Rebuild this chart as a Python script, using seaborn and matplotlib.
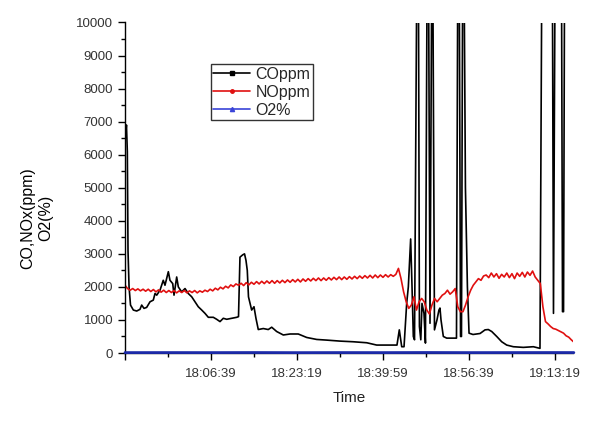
import numpy as np
import pandas as pd
import matplotlib
matplotlib.use("Agg")
import matplotlib.pyplot as plt
from matplotlib.lines import Line2D
import seaborn as sns

# ---- data (elapsed seconds from 17:49:59) ----
start_label = "17:49:59"
tick_times = [0, 1000, 2000, 3000, 4000, 5000]
tick_labels = ["", "18:06:39", "18:23:19", "18:39:59", "18:56:39", "19:13:19"]

co_t = [3, 17, 27, 35, 47, 64, 97, 136, 174, 194, 221, 252, 291, 329, 349, 369, 407, 445, 465,
        504, 523, 555, 570, 601, 620, 659, 698, 736, 776, 814, 852, 892, 930, 969, 1027, 1066,
        1105, 1143, 1183, 1241, 1299, 1320, 1337, 1369, 1390, 1407, 1422, 1436, 1473, 1500,
        1523, 1550, 1608, 1666, 1706, 1764, 1841, 1919, 2015, 2113, 2229, 2346, 2500, 2655,
        2811, 2927, 3043, 3163, 3190, 3218, 3245, 3276, 3295, 3322, 3338, 3353, 3367, 3392,
        3413, 3424, 3440, 3454, 3477, 3494, 3512, 3531, 3547, 3566, 3581, 3599, 3628, 3651,
        3663, 3675, 3702, 3741, 3803, 3855, 3869, 3888, 3902, 3913, 3926, 3945, 3959, 3982,
        4001, 4047, 4129, 4187, 4225, 4265, 4323, 4381, 4439, 4516, 4632, 4749, 4826, 4846,
        4971, 4983, 5000, 5077, 5088, 5100, 5111, 5198]
co_v = [6500, 6900, 6100, 3100, 2000, 1450, 1300, 1270, 1320, 1450, 1350, 1380, 1550, 1600, 1800,
        1750, 1900, 2200, 2050, 2460, 2200, 2100, 1750, 2300, 2000, 1850, 1950, 1800, 1700, 1550,
        1400, 1300, 1200, 1080, 1080, 1020, 950, 1050, 1020, 1050, 1080, 1100, 2900, 2970, 3000,
        2800, 2500, 1700, 1300, 1400, 1050, 710, 740, 710, 780, 650, 545, 575, 575, 470, 410, 390,
        360, 340, 310, 240, 240, 240, 700, 190, 190, 1510, 2000, 3450, 2000, 500, 400, 10800,
        10800, 800, 400, 1500, 1200, 300, 10800, 10800, 900, 10800, 10800, 700, 1000, 1300, 1360,
        1000, 500, 450, 450, 450, 10800, 10800, 500, 500, 10800, 10800, 5000, 2000, 600, 560, 590,
        700, 710, 650, 500, 340, 240, 190, 170, 190, 140, 10800, 10800, 1200, 10800, 10800, 1250,
        1250, 10800, 10800]

no_t = list(range(0, 5221, 30))
no_v = [2050, 1950, 1900, 1950, 1890, 1940, 1880, 1930, 1870, 1930,
        1860, 1920, 1850, 1910, 1840, 1900, 1830, 1890, 1830, 1890,
        1820, 1880, 1830, 1890, 1820, 1880, 1830, 1890, 1820, 1880,
        1840, 1900, 1860, 1930, 1880, 1960, 1910, 1990, 1940, 2020,
        1970, 2060, 2010, 2090, 2050, 2110, 2040, 2130, 2060, 2140,
        2080, 2160, 2090, 2170, 2100, 2180, 2110, 2190, 2110, 2190,
        2120, 2200, 2130, 2210, 2140, 2220, 2150, 2230, 2150, 2240,
        2170, 2250, 2180, 2260, 2190, 2270, 2190, 2270, 2200, 2280,
        2210, 2290, 2220, 2300, 2220, 2300, 2230, 2310, 2240, 2320,
        2250, 2330, 2260, 2340, 2270, 2350, 2270, 2360, 2280, 2360,
        2290, 2370, 2300, 2370, 2320, 2380, 2560, 2250, 1850, 1550,
        1350, 1450, 1700, 1300, 1550, 1650, 1550, 1300, 1180, 1450,
        1650, 1550, 1650, 1750, 1800, 1900, 1780, 1850, 1950, 1400,
        1250, 1250, 1450, 1700, 1900, 2050, 2150, 2250, 2200, 2330,
        2360, 2280, 2420, 2300, 2400, 2260, 2380, 2300, 2420, 2280,
        2400, 2250, 2420, 2320, 2440, 2300, 2450, 2350, 2480, 2300,
        2200, 2100, 1400, 950, 880, 800, 740, 720, 680, 640,
        600, 520, 480, 400, 330]

o2_t = [0, 500, 1000, 1500, 2000, 2500, 3000, 3500, 4000, 4500, 5000, 5220]
o2_v = [12, 13, 12, 14, 11, 13, 12, 15, 12, 13, 14, 13]

series_names = ["COppm", "NOppm", "O2%"]
colors = {"COppm": "black", "NOppm": "#e01010", "O2%": "#1c2aa8"}

df = pd.concat([
    pd.DataFrame({"t": co_t, "value": co_v, "series": "COppm"}),
    pd.DataFrame({"t": no_t[:len(no_v)], "value": no_v, "series": "NOppm"}),
    pd.DataFrame({"t": o2_t, "value": o2_v, "series": "O2%"}),
])

sns.set_style("ticks")
plt.rcParams["font.family"] = ["Liberation Sans", "DejaVu Sans"]

fig = plt.figure(figsize=(6.09, 4.34), dpi=100)
ax = fig.add_axes([125 / 609, 1 - 353 / 434, 448 / 609, 330.5 / 434])

widths = {"COppm": 1.2, "NOppm": 1.2, "O2%": 2.0}
for name in series_names:
    sub = df[df["series"] == name]
    sns.lineplot(data=sub, x="t", y="value", color=colors[name], lw=widths[name],
                 estimator=None, sort=False, ax=ax, legend=False)
ax.lines[2].set_clip_on(False)
ax.lines[2].set_zorder(5)

ax.set_xlim(0, 5210)
ax.set_ylim(0, 10000)
ax.set_yticks(np.arange(0, 10001, 1000))
ax.set_yticks(np.arange(500, 10000, 1000), minor=True)
ax.set_xticks(tick_times)
ax.set_xticklabels(tick_labels)
ax.set_xticks(np.arange(500, 5210, 1000), minor=True)
ax.tick_params(axis="both", which="major", direction="out", length=5, width=1,
               labelsize=9.5, labelcolor="#333333", color="black")
ax.tick_params(axis="both", which="minor", direction="out", length=3, width=1, color="black")
ax.tick_params(axis="x", pad=6)

for s in ["top", "right"]:
    ax.spines[s].set_visible(False)
for s in ["left", "bottom"]:
    ax.spines[s].set_linewidth(1.0)
    ax.spines[s].set_color("black")

ax.set_xlabel("Time", fontsize=11, color="#222222", labelpad=8)
ax.set_ylabel("CO,NOx(ppm)\nO2(%)", fontsize=11.5, color="black", linespacing=1.25)
ax.yaxis.label.set_va("center")
ax.yaxis.set_label_coords(-0.197, 0.408)

handles = [
    Line2D([], [], color="black", lw=1.2, marker="s", markersize=2.5),
    Line2D([], [], color="#e01010", lw=1.2, marker="o", markersize=2.5),
    Line2D([], [], color="#3a44d8", lw=1.2, marker="^", markersize=3),
]
leg = ax.legend(handles, series_names, loc="upper left", bbox_to_anchor=(0.191, 0.874),
                borderaxespad=0, fontsize=11.5, frameon=True, fancybox=False,
                edgecolor="#333333", framealpha=1, handlelength=2.35, handletextpad=0.3,
                borderpad=0.15, labelspacing=0.2)
leg.get_frame().set_linewidth(1.0)

fig.savefig("out.png", dpi=100)
